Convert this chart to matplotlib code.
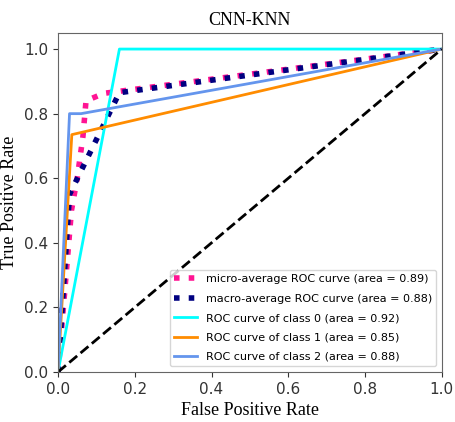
import matplotlib

matplotlib.use("Agg")
import matplotlib.pyplot as plt

# ROC vertices
micro_fpr = [0.0, 0.035, 0.05, 0.065, 0.073, 0.12, 1.0]
micro_tpr = [0.0, 0.50, 0.60, 0.73, 0.84, 0.863, 1.0]
macro_fpr = [0.0, 0.03, 0.16, 1.0]
macro_tpr = [0.0, 0.55, 0.865, 1.0]

class_fpr = [
    [0.0, 0.16, 1.0],
    [0.0, 0.036, 1.0],
    [0.0, 0.03, 0.06, 1.0],
]
class_tpr = [
    [0.0, 1.0, 1.0],
    [0.0, 0.735, 1.0],
    [0.0, 0.80, 0.80, 1.0],
]
class_auc = [0.92, 0.85, 0.88]
micro_auc = 0.89
macro_auc = 0.88
colors = ["aqua", "darkorange", "cornflowerblue"]

fig = plt.figure(figsize=(4.55, 4.22), dpi=100)
ax = fig.add_axes([0.1275, 0.1185, 0.8435, 0.8035])

ax.plot(micro_fpr, micro_tpr, color="deeppink", linestyle=":", linewidth=4,
        label=f"micro-average ROC curve (area = {micro_auc:0.2f})")
ax.plot(macro_fpr, macro_tpr, color="navy", linestyle=":", linewidth=4,
        label=f"macro-average ROC curve (area = {macro_auc:0.2f})")
for i, color in enumerate(colors):
    ax.plot(class_fpr[i], class_tpr[i], color=color, lw=2,
            label=f"ROC curve of class {i} (area = {class_auc[i]:0.2f})")
ax.plot([0, 1], [0, 1], "k--", lw=2)

ax.set_xlim(0.0, 1.0)
ax.set_ylim(0.0, 1.05)
ax.tick_params(labelsize=11, colors="#333333")
for s in ax.spines.values():
    s.set_color("#666666")
ax.set_xlabel("False Positive Rate", family="Liberation Serif", fontsize=13)
ax.set_ylabel("True Positive Rate", family="Liberation Serif", fontsize=13)
ax.set_title("CNN-KNN", family="Liberation Serif", fontsize=13)
ax.legend(loc="lower right", fontsize=8, labelspacing=0.85)

fig.savefig("out.png")
